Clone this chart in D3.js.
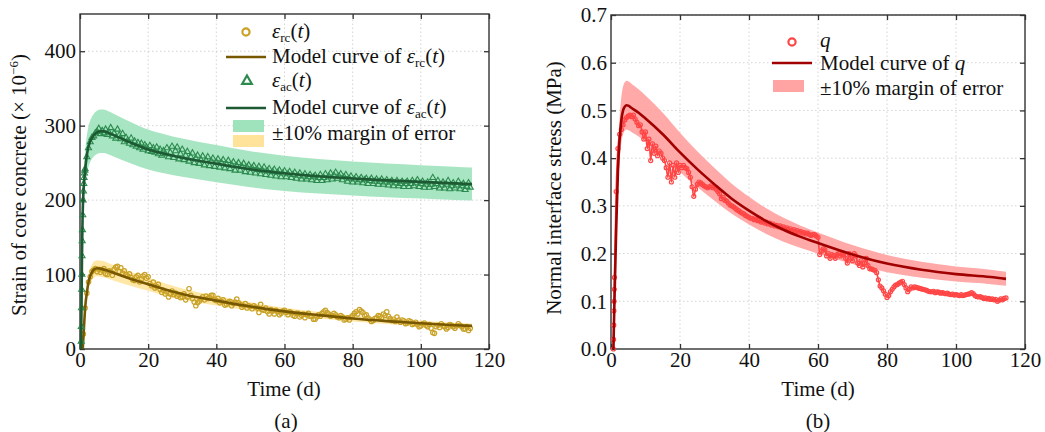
<!DOCTYPE html>
<html>
<head>
<meta charset="utf-8">
<script src="https://cdn.jsdelivr.net/npm/d3@7"></script>
<style>
  body { margin: 0; background: #fff; }
  svg { font-family: "Liberation Serif", "Times New Roman", serif; }
</style>
</head>
<body>
<svg id="chart" width="1045" height="432"></svg>
<script>
// ---- data ----
// panel (a): model curves
const acModelT = [0.3, 0.45, 0.6, 0.75, 1, 1.5, 2, 2.5, 3, 4, 5, 6, 7, 8, 10, 15, 20, 25, 30, 40, 50, 60, 70, 80, 90, 100, 110, 115];
const acModel  = [0, 60, 130, 175, 210, 240, 260, 272, 279, 287, 291, 292.5, 292.5, 291, 287, 277, 268, 262, 257, 249, 241.5, 236, 232, 229, 226.5, 224.5, 222.5, 221.5];
const rcModelT = [0.8, 1, 1.3, 1.6, 2, 2.5, 3, 3.5, 4, 5, 6, 8, 10, 15, 20, 25, 30, 40, 50, 60, 70, 80, 90, 100, 110, 115];
const rcModel  = [0, 15, 40, 60, 75, 90, 98, 103, 106.5, 108.5, 108, 105.5, 102, 94, 87, 80, 74, 65, 57, 50.5, 45.5, 41, 37.5, 34.5, 32, 31];

// panel (a): measured strains, t = 1, 1.5, 2 ... (every half day)
const rcStart = 1;
const rcData = [
  20, 55, 75, 90, 97, 104, 106, 108, 104, 107,
  103, 106, 108, 101, 100, 105, 104, 99, 107, 110,
  111, 104, 109, 102, 105, 100, 98, 101, 96, 93,
  92, 97, 99, 90, 94, 98, 100, 95, 97, 88,
  85, 90, 82, 84, 87, 80, 76, 79, 74, 77,
  70, 74, 78, 73, 75, 71, 73, 69, 70, 74,
  66, 70, 81, 72, 68, 63, 58, 62, 64, 67,
  70, 66, 71, 68, 69, 72, 72, 66, 65, 68,
  62, 64, 66, 59, 60, 63, 64, 58, 61, 63,
  67, 62, 60, 56, 58, 61, 55, 58, 57, 54,
  58, 56, 55, 49, 60, 53, 52, 55, 50, 47,
  53, 51, 47, 52, 50, 46, 48, 51, 52, 49,
  46, 50, 49, 45, 44, 48, 48, 43, 45, 47,
  42, 46, 48, 44, 44, 40, 40, 43, 46, 44,
  48, 50, 52, 49, 47, 44, 45, 48, 46, 43,
  42, 45, 43, 39, 40, 42, 39, 43, 45, 48,
  50, 47, 53, 51, 49, 45, 46, 42, 40, 37,
  38, 41, 42, 45, 44, 42, 47, 45, 50, 44,
  41, 38, 40, 37, 43, 39, 36, 39, 38, 34,
  35, 38, 37, 33, 34, 36, 33, 30, 31, 34,
  35, 32, 30, 33, 28, 22, 21, 30, 32, 29,
  34, 31, 30, 27, 29, 33, 32, 30, 28, 31,
  34, 32, 30, 27, 27, 30, 25, 28
];

const acEarlyT = [0.35, 0.4, 0.45, 0.5, 0.55, 0.6, 0.65, 0.7, 0.8, 0.9, 1.0, 1.1, 1.2, 1.3, 1.4];
const acEarly  = [10, 30, 55, 80, 100, 125, 145, 160, 180, 200, 212, 222, 230, 236, 240];
const acStart = 1.5;
const acData = [
  242, 258, 270, 278, 284, 286, 290, 292, 296, 289,
  293, 290, 295, 288, 291, 297, 286, 290, 283, 295,
  287, 282, 289, 278, 284, 280, 276, 283, 274, 279,
  272, 277, 270, 276, 268, 274, 271, 266, 273, 265,
  270, 264, 271, 262, 268, 260, 266, 262, 270, 258,
  264, 272, 257, 266, 271, 255, 262, 268, 254, 260,
  265, 252, 258, 263, 250, 256, 260, 249, 254, 259,
  247, 253, 258, 246, 252, 256, 245, 251, 255, 244,
  250, 254, 243, 248, 253, 242, 247, 251, 240, 246,
  250, 240, 245, 249, 238, 244, 247, 237, 243, 246,
  236, 241, 245, 235, 240, 244, 234, 239, 242, 233,
  238, 241, 232, 237, 240, 231, 236, 239, 231, 235,
  238, 230, 234, 237, 229, 233, 236, 228, 232, 235,
  228, 231, 234, 227, 231, 233, 226, 230, 234, 226,
  230, 235, 227, 232, 236, 228, 233, 237, 229, 232,
  235, 227, 231, 234, 225, 229, 232, 224, 228, 231,
  224, 227, 230, 223, 227, 229, 222, 226, 229, 222,
  225, 228, 221, 225, 228, 221, 224, 227, 220, 224,
  226, 219, 223, 226, 219, 222, 225, 218, 222, 225,
  218, 222, 226, 219, 223, 227, 218, 222, 225, 217,
  221, 224, 217, 221, 230, 218, 222, 226, 216, 220,
  224, 216, 221, 226, 215, 219, 223, 216, 220, 225,
  215, 219, 222, 214, 218, 223, 217
];

// panel (b): interface stress
const qModelT = [0.7, 1, 1.5, 2, 2.5, 3, 3.5, 4, 4.5, 5, 6, 8, 10, 15, 20, 25, 30, 35, 40, 45, 50, 55, 60, 70, 80, 90, 100, 110, 114.5];
const qModel  = [0, 0.1, 0.25, 0.37, 0.44, 0.48, 0.5, 0.508, 0.511, 0.51, 0.505, 0.495, 0.483, 0.45, 0.412, 0.377, 0.345, 0.315, 0.29, 0.268, 0.25, 0.235, 0.222, 0.198, 0.179, 0.166, 0.157, 0.151, 0.147];

const qEarlyT = [0.7, 0.75, 0.8, 0.85, 0.9, 0.95];
const qEarly  = [0, 0.02, 0.05, 0.08, 0.1, 0.125];
const qStart = 1;
const qData = [
  0.15, 0.33, 0.42, 0.45, 0.46, 0.47, 0.48, 0.485, 0.488, 0.49,
  0.487, 0.49, 0.482, 0.475, 0.468, 0.47, 0.455, 0.44, 0.455, 0.42,
  0.44, 0.395, 0.43, 0.41, 0.425, 0.405, 0.415, 0.41, 0.40, 0.395,
  0.38, 0.36, 0.39, 0.35, 0.385, 0.36, 0.39, 0.37, 0.385, 0.38,
  0.385, 0.38, 0.378, 0.37, 0.36, 0.34, 0.32, 0.335, 0.345, 0.35,
  0.348, 0.345, 0.342, 0.34, 0.338, 0.34, 0.342, 0.338, 0.34, 0.335,
  0.33, 0.325, 0.315, 0.318, 0.312, 0.31, 0.306, 0.302, 0.30, 0.298,
  0.295, 0.292, 0.29, 0.287, 0.285, 0.283, 0.28, 0.278, 0.276, 0.274,
  0.274, 0.271, 0.272, 0.269, 0.27, 0.266, 0.268, 0.264, 0.266, 0.262,
  0.264, 0.26, 0.262, 0.258, 0.259, 0.256, 0.258, 0.254, 0.256, 0.252,
  0.254, 0.25, 0.252, 0.248, 0.25, 0.246, 0.248, 0.245, 0.246, 0.243,
  0.244, 0.241, 0.243, 0.24, 0.238, 0.24, 0.24, 0.237, 0.234, 0.198,
  0.205, 0.21, 0.208, 0.195, 0.2, 0.19, 0.198, 0.196, 0.19, 0.198,
  0.2, 0.195, 0.198, 0.2, 0.19, 0.18, 0.2, 0.19, 0.185, 0.2,
  0.195, 0.18, 0.175, 0.185, 0.172, 0.18, 0.19, 0.175, 0.168, 0.168,
  0.166, 0.165, 0.16, 0.145, 0.132, 0.128, 0.122, 0.115, 0.108, 0.112,
  0.12, 0.125, 0.13, 0.134, 0.135, 0.138, 0.14, 0.142, 0.135, 0.128,
  0.12, 0.125, 0.13, 0.128, 0.13, 0.129, 0.128, 0.127, 0.126, 0.125,
  0.124, 0.123, 0.121, 0.12, 0.12, 0.121, 0.118, 0.12, 0.119, 0.117,
  0.118, 0.117, 0.116, 0.117, 0.115, 0.114, 0.115, 0.113, 0.114, 0.113,
  0.112, 0.114, 0.112, 0.113, 0.114, 0.115, 0.116, 0.118, 0.116, 0.112,
  0.11, 0.109, 0.11, 0.108, 0.106, 0.107, 0.105, 0.106, 0.104, 0.105,
  0.103, 0.104, 0.1, 0.102, 0.105, 0.103, 0.106, 0.107
];

const xTicks = [0, 20, 40, 60, 80, 100, 120];
const yTicksA = [0, 100, 200, 300, 400];
const yTicksB = [0, 0.1, 0.2, 0.3, 0.4, 0.5, 0.6, 0.7];

// ---- helpers ----
const svg = d3.select("#chart");
const FONT = 21;

function pts(start, vals) {
  return vals.map((v, i) => [start + i * 0.5, v]);
}
function pairs(ts, vals) {
  return vals.map((v, i) => [ts[i], v]);
}

function frame(x, y, yTicks, yFmt) {
  const g = svg.append("g");
  const [x0, x1] = x.range();
  const [y0, y1] = y.range();
  // grid
  g.selectAll(".gx").data(xTicks.slice(1, -1)).enter().append("line")
    .attr("x1", d => x(d)).attr("x2", d => x(d)).attr("y1", y0).attr("y2", y1)
    .attr("stroke", "#c8c8c8").attr("stroke-width", 0.8).attr("stroke-dasharray", "1.5,2.5");
  g.selectAll(".gy").data(yTicks.slice(1)).enter().append("line")
    .attr("x1", x0).attr("x2", x1).attr("y1", d => y(d)).attr("y2", d => y(d))
    .attr("stroke", "#c8c8c8").attr("stroke-width", 0.8).attr("stroke-dasharray", "1.5,2.5");

  const ax = (axis, tr) => {
    const a = g.append("g").attr("transform", tr).call(axis);
    a.select(".domain").remove();
    a.selectAll("line").attr("stroke", "#333").attr("stroke-width", 1.3);
    a.selectAll("text").attr("font-size", FONT).attr("fill", "#111")
      .style("font-family", "'Liberation Serif', 'Times New Roman', serif");
    return a;
  };
  ax(d3.axisBottom(x).tickValues(xTicks).tickSize(-5).tickPadding(3), `translate(0,${y0})`);
  ax(d3.axisTop(x).tickValues(xTicks).tickSize(-5).tickFormat(""), `translate(0,${y1})`);
  ax(d3.axisLeft(y).tickValues(yTicks).tickSize(-5).tickPadding(4).tickFormat(yFmt), `translate(${x0},0)`);
  ax(d3.axisRight(y).tickValues(yTicks).tickSize(-5).tickFormat(""), `translate(${x1},0)`);

  g.append("rect").attr("x", x0).attr("y", y1).attr("width", x1 - x0).attr("height", y0 - y1)
    .attr("fill", "none").attr("stroke", "#333").attr("stroke-width", 1.4);
  return g;
}

function band(g, x, y, ts, vals, fill, op) {
  const area = d3.area()
    .x(d => x(d[0])).y0(d => y(d[1] * 0.9)).y1(d => y(d[1] * 1.1))
    .curve(d3.curveMonotoneX);
  g.append("path").datum(pairs(ts, vals)).attr("d", area).attr("fill", fill).attr("opacity", op);
}
function curve(g, x, y, data, color, w) {
  const line = d3.line().x(d => x(d[0])).y(d => y(d[1])).curve(d3.curveMonotoneX);
  g.append("path").datum(data).attr("d", line).attr("fill", "none")
    .attr("stroke", color).attr("stroke-width", w).attr("stroke-linejoin", "round");
}
function circles(g, x, y, data, color, r) {
  g.selectAll(null).data(data).enter().append("circle")
    .attr("cx", d => x(d[0])).attr("cy", d => y(d[1])).attr("r", r)
    .attr("fill", "none").attr("stroke", color).attr("stroke-width", 1.2);
}

// rich text: parts = [text, italic, sub]
function mathText(g, xPos, yPos, parts, size) {
  const t = g.append("text").attr("x", xPos).attr("y", yPos).attr("font-size", size).attr("fill", "#111");
  let shifted = false;
  parts.forEach(([s, it, sub]) => {
    const sp = t.append("tspan").text(s);
    if (it) sp.attr("font-style", "italic");
    if (sub && !shifted) { sp.attr("dy", 4).attr("font-size", size * 0.62); shifted = true; }
    else if (sub) { sp.attr("font-size", size * 0.62); }
    else if (shifted) { sp.attr("dy", -4); shifted = false; }
  });
  return t;
}

// ---- panel (a) ----
const xA = d3.scaleLinear().domain([0, 120]).range([80, 489]);
const yA = d3.scaleLinear().domain([0, 450]).range([349, 14]);
const gA = frame(xA, yA, yTicksA, d3.format("d"));
const plotA = svg.append("g");

band(plotA, xA, yA, acModelT, acModel, "#9fe3bd", 0.9);
band(plotA, xA, yA, rcModelT, rcModel, "#ffdf8a", 0.75);
circles(plotA, xA, yA, pts(rcStart, rcData), "#c9a227", 2.2);
curve(plotA, xA, yA, pairs(rcModelT, rcModel), "#775800", 2.6);

const tri = d3.symbol().type(d3.symbolTriangle).size(16);
plotA.selectAll(null).data(pairs(acEarlyT, acEarly).concat(pts(acStart, acData))).enter().append("path")
  .attr("d", tri).attr("transform", d => `translate(${xA(d[0])},${yA(d[1])})`)
  .attr("fill", "none").attr("stroke", "#2d8a4e").attr("stroke-width", 1.1);
curve(plotA, xA, yA, pairs(acModelT, acModel), "#1d5a33", 2.6);

// legend (a)
const lgA = svg.append("g");
lgA.append("circle").attr("cx", 246).attr("cy", 32).attr("r", 3.6)
  .attr("fill", "none").attr("stroke", "#c9a227").attr("stroke-width", 2.2);
mathText(lgA, 272, 38, [["ε", true], ["rc", false, true], ["(", false], ["t", true], [")", false]], FONT);
lgA.append("line").attr("x1", 226).attr("x2", 266).attr("y1", 57).attr("y2", 57)
  .attr("stroke", "#775800").attr("stroke-width", 2.6);
mathText(lgA, 272, 63, [["Model curve of ", false], ["ε", true], ["rc", false, true], ["(", false], ["t", true], [")", false]], FONT);
lgA.append("path").attr("d", d3.symbol().type(d3.symbolTriangle).size(40))
  .attr("transform", "translate(247,81)")
  .attr("fill", "none").attr("stroke", "#2d8a4e").attr("stroke-width", 2.2);
mathText(lgA, 272, 87, [["ε", true], ["ac", false, true], ["(", false], ["t", true], [")", false]], FONT);
lgA.append("line").attr("x1", 226).attr("x2", 266).attr("y1", 108).attr("y2", 108)
  .attr("stroke", "#1d5a33").attr("stroke-width", 2.6);
mathText(lgA, 272, 114, [["Model curve of ", false], ["ε", true], ["ac", false, true], ["(", false], ["t", true], [")", false]], FONT);
lgA.append("rect").attr("x", 233).attr("y", 120).attr("width", 31).attr("height", 12).attr("fill", "#9fe3bd");
lgA.append("rect").attr("x", 233).attr("y", 135).attr("width", 31).attr("height", 12).attr("fill", "#ffe39a");
lgA.append("text").attr("x", 272).attr("y", 140).attr("font-size", FONT).attr("fill", "#111")
  .text("±10% margin of error");

// axis titles (a)
svg.append("text").attr("x", 284).attr("y", 396).attr("text-anchor", "middle")
  .attr("font-size", FONT).attr("fill", "#111").text("Time (d)");
svg.append("text").attr("x", 286).attr("y", 428).attr("text-anchor", "middle")
  .attr("font-size", FONT).attr("fill", "#111").text("(a)");
const ytA = svg.append("text").attr("transform", "translate(26,185) rotate(-90)")
  .attr("text-anchor", "middle").attr("font-size", FONT).attr("fill", "#111");
ytA.append("tspan").text("Strain of core concrete (× 10");
ytA.append("tspan").text("−6").attr("font-size", 13).attr("dy", -8);
ytA.append("tspan").text(")").attr("dy", 8);

// ---- panel (b) ----
const xB = d3.scaleLinear().domain([0, 120]).range([611, 1025]);
const yB = d3.scaleLinear().domain([0, 0.7]).range([349, 15]);
const gB = frame(xB, yB, yTicksB, d3.format(".1f"));
const plotB = svg.append("g");

band(plotB, xB, yB, qModelT, qModel, "#ff9a9a", 0.85);
const qAll = pairs(qEarlyT, qEarly).concat(pts(qStart, qData));
curve(plotB, xB, yB, qAll, "#ff4545", 1.6);
circles(plotB, xB, yB, qAll, "#ff4545", 2);
curve(plotB, xB, yB, pairs(qModelT, qModel), "#a10000", 2.6);

// legend (b)
const lgB = svg.append("g");
lgB.append("circle").attr("cx", 792).attr("cy", 42).attr("r", 3.6)
  .attr("fill", "none").attr("stroke", "#ff4545").attr("stroke-width", 2.2);
mathText(lgB, 820, 47, [["q", true]], FONT);
lgB.append("line").attr("x1", 772).attr("x2", 812).attr("y1", 63).attr("y2", 63)
  .attr("stroke", "#a10000").attr("stroke-width", 2.6);
mathText(lgB, 820, 70, [["Model curve of ", false], ["q", true]], FONT);
lgB.append("rect").attr("x", 773).attr("y", 80).attr("width", 31).attr("height", 12).attr("fill", "#ffa3a3");
lgB.append("text").attr("x", 820).attr("y", 95).attr("font-size", FONT).attr("fill", "#111")
  .text("±10% margin of error");

svg.append("text").attr("x", 818).attr("y", 396).attr("text-anchor", "middle")
  .attr("font-size", FONT).attr("fill", "#111").text("Time (d)");
svg.append("text").attr("x", 818).attr("y", 428).attr("text-anchor", "middle")
  .attr("font-size", FONT).attr("fill", "#111").text("(b)");
svg.append("text").attr("transform", "translate(561,188) rotate(-90)")
  .attr("text-anchor", "middle").attr("font-size", FONT).attr("fill", "#111")
  .text("Normal interface stress (MPa)");
</script>
</body>
</html>
